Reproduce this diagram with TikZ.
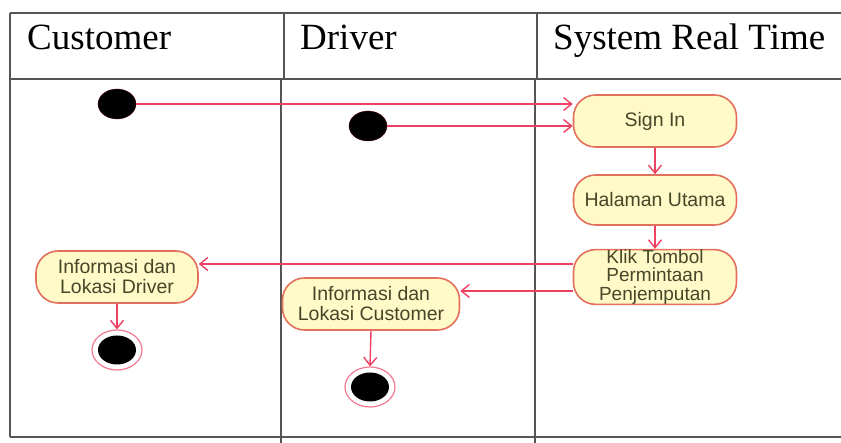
\documentclass[tikz,border=0pt]{standalone}
\usepackage{fontspec}
\setmainfont{Liberation Serif}
\newfontfamily\actfont{Liberation Sans}
\usetikzlibrary{arrows.meta,shapes.geometric}
\definecolor{flow}{RGB}{238,64,98}
\definecolor{actborder}{RGB}{226,112,92}
\definecolor{actfill}{RGB}{255,250,200}
\definecolor{acttext}{RGB}{70,70,40}
\definecolor{grid}{RGB}{85,85,85}
\begin{document}
\begin{tikzpicture}[x=1pt,y=-1pt,
  lane/.style={draw=grid,line width=2pt},
  lanehead/.style={anchor=base west,inner sep=0pt,font=\fontsize{37}{37}\selectfont},
  activity/.style={draw=actborder,line width=1.6pt,fill=actfill,rounded corners=22pt,
    minimum width=163pt,minimum height=52pt,align=center,text=acttext,
    font=\actfont\fontsize{19.5}{20}\selectfont,inner sep=2pt},
  initial/.style={ellipse,fill=black,draw=black!70!red,minimum width=38pt,minimum height=30pt,inner sep=0pt},
  finalring/.style={ellipse,draw=flow!70,line width=1.2pt,fill=white,minimum width=50pt,minimum height=40pt,inner sep=0pt},
  finaldot/.style={ellipse,fill=black,minimum width=38pt,minimum height=29pt,inner sep=0pt},
  flowline/.style={draw=flow,line width=1.4pt,-{Straight Barb[length=8pt,width=13pt,line width=1.4pt]}}
]
\useasboundingbox (0,0) rectangle (841,443);

% swimlane frame
\draw[lane] (10,13) -- (841,13);
\draw[lane] (10,79) -- (841,79);
\draw[lane] (10,437) -- (841,437);
\draw[lane] (10,13) -- (10,437);
\draw[lane] (284,13) -- (284,79);
\draw[lane] (281,79) -- (281,443);
\draw[lane] (537,13) -- (537,79);
\draw[lane] (535,79) -- (535,443);

% lane titles
\node[lanehead] (hcust) at (27,50) {Customer};
\node[lanehead] (hdrv) at (300,50) {Driver};
\node[lanehead] (hsys) at (553,50) {System Real Time};

% initial states
\node[initial] (cstart) at (117,104) {};
\node[initial] (dstart) at (368,126) {};

% activities
\node[activity] (signin) at (655,121) {Sign In};
\node[activity,minimum height=50pt] (home) at (655,200) {Halaman Utama};
\node[activity,font=\actfont\fontsize{19}{18.5}\selectfont,inner sep=0pt] (request) at (655,277) {Klik Tombol\\Permintaan\\Penjemputan};
\node[activity,minimum width=162pt] (infod) at (117,277) {Informasi dan\\Lokasi Driver};
\node[activity,minimum width=177pt] (infoc) at (371,304) {Informasi dan\\Lokasi Customer};

% final states
\node[finalring] (cend) at (117,350) {};
\node[finaldot] (cenddot) at (cend) {};
\node[finalring] (dend) at (370,387) {};
\node[finaldot] (denddot) at (dend) {};

% control flows
\draw[flowline] (cstart.east) -- (cstart.east -| signin.west);
\draw[flowline] (dstart.east) -- (dstart.east -| signin.west);
\draw[flowline] (signin.south) -- (home.north);
\draw[flowline] (home.south) -- (request.north);
\draw[flowline] ([yshift=13pt]request.west) -- ([yshift=13pt]request.west -| infod.east);
\draw[flowline] ([yshift=-14pt]request.west) -- ([yshift=-14pt]request.west -| infoc.east);
\draw[flowline] (infod.south) -- (cend.north);
\draw[flowline] (infoc.south) -- (dend.north);
\end{tikzpicture}
\end{document}
